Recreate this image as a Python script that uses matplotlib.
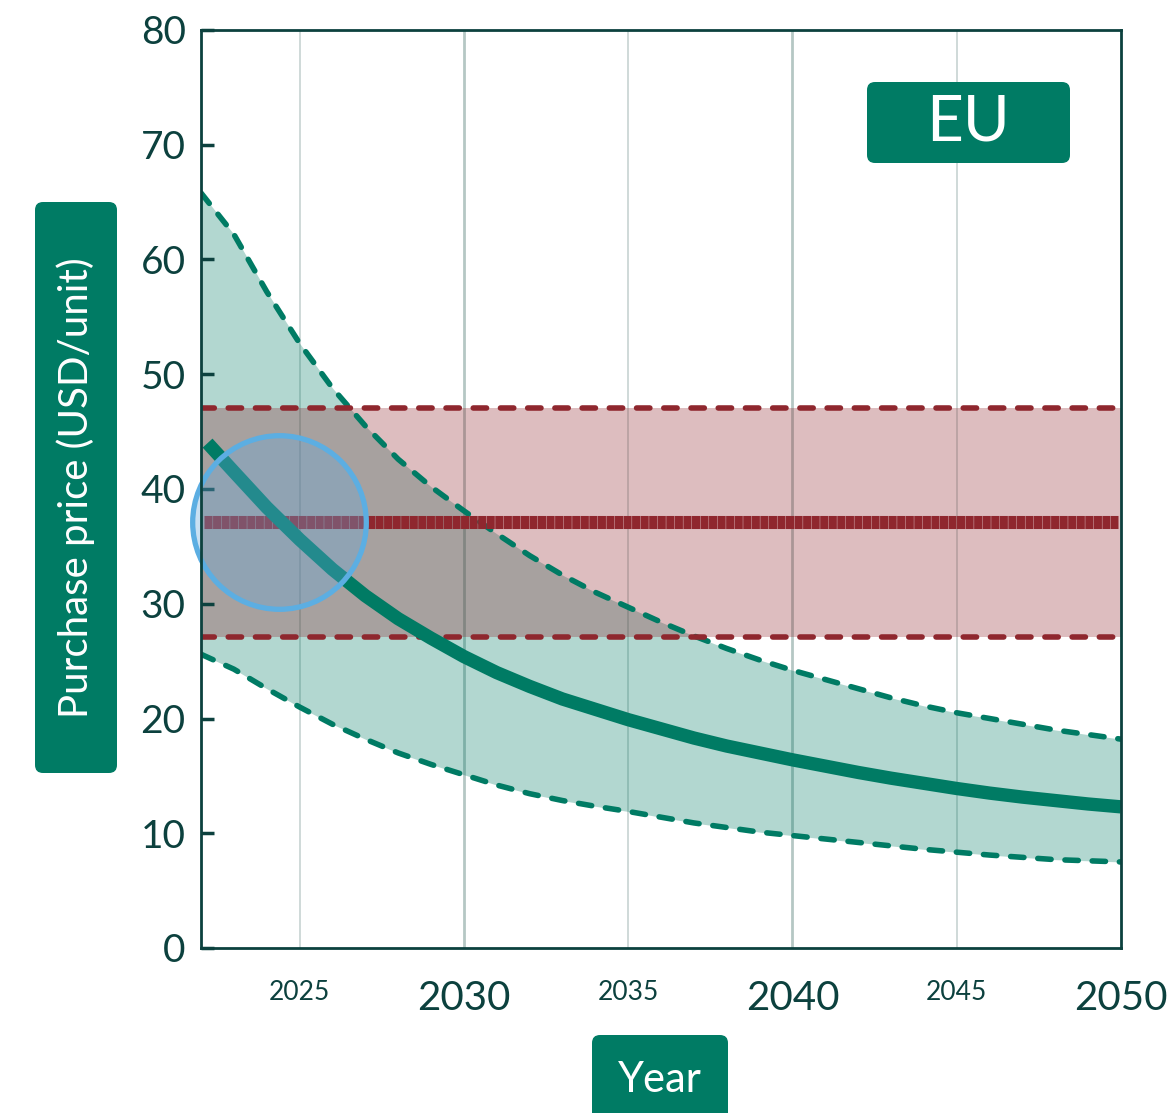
import matplotlib
matplotlib.use("Agg")
import matplotlib.pyplot as plt
from matplotlib.patches import FancyBboxPatch

# ---- data ----
years = list(range(2022, 2051))
mid_years = [2022.2] + list(range(2023, 2051))

central = [44.0, 41.5, 38.4, 35.6, 33.0, 30.7, 28.7, 27.0, 25.4, 24.0,
           22.8, 21.7, 20.8, 19.9, 19.1, 18.3, 17.6, 17.0, 16.4, 15.85,
           15.3, 14.8, 14.35, 13.9, 13.5, 13.15, 12.85, 12.55, 12.3]
upper = [65.8, 62.2, 57.2, 52.7, 48.8, 45.5, 42.6, 40.2, 38.1, 36.1,
         34.2, 32.5, 31.0, 29.7, 28.4, 27.2, 26.1, 25.1, 24.2, 23.4,
         22.6, 21.8, 21.1, 20.5, 20.0, 19.5, 19.0, 18.6, 18.2]
lower = [25.6, 24.3, 22.6, 21.0, 19.5, 18.2, 17.0, 16.0, 15.1, 14.2,
         13.45, 12.85, 12.35, 11.9, 11.4, 10.9, 10.5, 10.1, 9.8, 9.5,
         9.2, 8.9, 8.6, 8.35, 8.1, 7.9, 7.7, 7.6, 7.5]

ref_low, ref_mid, ref_high = 27.1, 37.1, 47.1
ref_years = [2022.1, 2049.9]
highlight = (2024.38, 37.1)

major_years = [2030, 2040, 2050]
minor_years = [2025, 2035, 2045]
y_ticks = list(range(0, 81, 10))

# ---- colours ----
GREEN = "#007b64"
RED = "#8f272e"
DARK = "#0c413e"
GRID = "#cbd7d5"

plt.rcParams['font.family'] = ['Lato', 'DejaVu Sans']

W, H, DPI = 1169, 1113, 100
fig = plt.figure(figsize=(W / DPI, H / DPI), dpi=DPI)
ax = fig.add_axes([201 / W, 1 - 948 / H, 920 / W, 918 / H])

ax.set_xlim(2022, 2050)
ax.set_ylim(0, 80)

# vertical grid lines
for yr in minor_years:
    ax.axvline(yr, color=GRID, lw=1.3, zorder=0)
for yr in major_years[:-1]:
    ax.axvline(yr, color="#b5c7c4", lw=2.0, zorder=0)

# green uncertainty band
ax.fill_between(years, lower, upper, color=GREEN, alpha=0.3, lw=0, zorder=1)
# red reference band
ax.axhspan(ref_low, ref_high, color=RED, alpha=0.3, lw=0, zorder=1.5)

dash_kw = dict(lw=4.0, dashes=(2.4, 2.5), dash_capstyle='round', zorder=3)
ax.plot(years, upper, color=GREEN, **dash_kw)
ax.plot(years, lower, color=GREEN, **dash_kw)
for lvl in (ref_low, ref_high):
    ax.axhline(lvl, color=RED, **dash_kw)

ax.plot(ref_years, [ref_mid, ref_mid], color=RED, lw=9.4,
        dashes=(0.62, 0.035), dash_capstyle='butt', zorder=4)
ax.plot(mid_years, central, color=GREEN, lw=9.6,
        solid_capstyle='butt', solid_joinstyle='round', zorder=5)

# highlight circle
ax.plot([highlight[0]], [highlight[1]], marker='o', ms=125,
        mfc=(0.40, 0.66, 0.86, 0.35), mec="#5caee2", mew=3.8,
        zorder=6, clip_on=False)

# axes styling
for s in ax.spines.values():
    s.set_color(DARK)
    s.set_linewidth(2.0)
    s.set_zorder(7)

ax.set_yticks(y_ticks)
ax.set_yticklabels([str(v) for v in y_ticks])
ax.tick_params(axis='y', direction='in', length=9, width=2.5, color=DARK,
               labelsize=28, labelcolor=DARK, pad=11)

ax.set_xticks(major_years)
ax.set_xticklabels([str(v) for v in major_years])
ax.set_xticks(minor_years, minor=True)
ax.set_xticklabels([str(v) for v in minor_years], minor=True)
ax.tick_params(axis='x', which='major', length=0, labelsize=29,
               labelcolor=DARK, pad=23)
ax.tick_params(axis='x', which='minor', length=0, labelsize=19,
               labelcolor=DARK, pad=23)


def label_box(x0, y0, x1, y1, text, size, rot=0):
    # box given in pixel coords of the reference (origin top-left)
    tr = fig.dpi_scale_trans
    box = FancyBboxPatch((x0 / DPI, (H - y1) / DPI),
                         (x1 - x0) / DPI, (y1 - y0) / DPI,
                         boxstyle="round,pad=0,rounding_size=0.08",
                         transform=tr, facecolor=GREEN, edgecolor='none')
    fig.patches.append(box)
    fig.text((x0 + x1) / 2 / DPI, (H - (y0 + y1) / 2) / DPI, text,
             transform=tr, ha='center', va='center', color='white',
             fontsize=size, rotation=rot)


label_box(35, 202, 117, 773, "Purchase price (USD/unit)", 29, rot=90)
label_box(592, 1035, 728, 1125, "Year", 30)
label_box(867, 82, 1070, 163, "EU", 46)

fig.savefig("out.png", dpi=DPI)
